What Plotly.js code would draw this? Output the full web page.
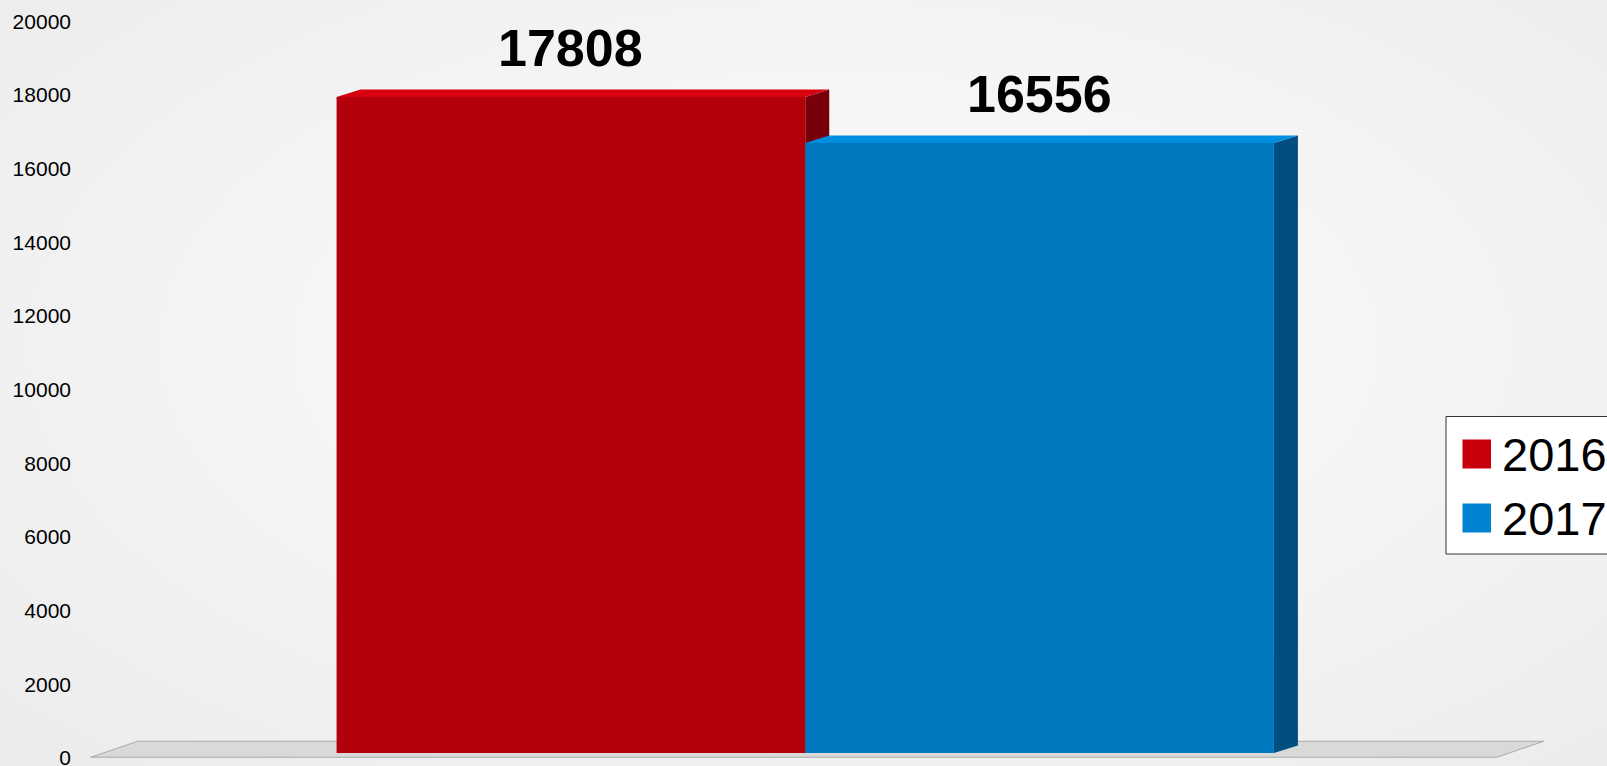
<!DOCTYPE html>
<html>
<head>
<meta charset="utf-8">
<script src="https://cdn.plot.ly/plotly-3.0.1.min.js"></script>
<style>
  html, body { margin: 0; padding: 0; }
  body {
    width: 1607px; height: 766px; overflow: hidden;
    background: radial-gradient(ellipse 75% 80% at 52% 45%, #fafafa 0%, #f5f5f5 45%, #ebebeb 100%);
  }
  #chart { width: 1607px; height: 766px; }
</style>
</head>
<body>
<div id="chart"></div>
<script>
// ---- data ----
const years = ['2016', '2017'];
const values = [17808, 16556];
const frontColors = ['#b3000b', '#0078bf'];
const topColors = ['#d6000f', '#008fe0'];
const sideColors = ['#78000a', '#004f80'];
const legendColors = ['#c8000b', '#0083d1'];
const yTicks = [0, 2000, 4000, 6000, 8000, 10000, 12000, 14000, 16000, 18000, 20000];

// ---- geometry (layout) ----
const W = 1607, H = 766;
const M = { l: 80, r: 0, t: 16, b: 0 };
const plotW = W - M.l - M.r, plotH = H - M.t - M.b;
const pxPerX = 1406;             // pixels per category unit
const pxPerY = 0.03684;          // pixels per value unit
const x0px = 805.25;             // pixel of x = 0
const y0px = 753;                // pixel of y = 0
const xRange = [(M.l - x0px) / pxPerX, (W - M.r - x0px) / pxPerX];
const yRange = [-(H - M.b - y0px) / pxPerY, (y0px - M.t) / pxPerY];
const bargap = 1 / 3;
const barW = (1 - bargap) / years.length;

const dX = 24 / pxPerX, dY = 7.5 / pxPerY;          // bar depth
const fdX = 47 / pxPerX, fdY = 16 / pxPerY;         // floor depth
const fsX = (47 - 24) / 2 / pxPerX, fsY = (16 - 7.5) / 2 / pxPerY;

const traces = years.map((yr, i) => ({
  type: 'bar',
  name: yr,
  x: [0],
  y: [values[i]],
  marker: { color: frontColors[i], line: { width: 0 } },
  hoverinfo: 'name+y',
  showlegend: false
}));

const shapes = [];
// floor
const fl = -0.5 - fsX, fr = 0.5 - fsX, fb = -fsY;
shapes.push({
  type: 'path', xref: 'x', yref: 'y', layer: 'below',
  path: `M ${fl},${fb} L ${fr},${fb} L ${fr + fdX},${fb + fdY} L ${fl + fdX},${fb + fdY} Z`,
  fillcolor: '#d9d9d9', line: { color: '#aaaaaa', width: 1 }
});
// 3D faces for each bar
years.forEach((yr, i) => {
  const L = -0.5 * (1 - bargap) + i * barW;
  const R = L + barW;
  const v = values[i];
  shapes.push({
    type: 'path', xref: 'x', yref: 'y', layer: 'below',
    path: `M ${R},0 L ${R},${v} L ${R + dX},${v + dY} L ${R + dX},${dY} Z`,
    fillcolor: sideColors[i], line: { width: 0 }
  });
  shapes.push({
    type: 'path', xref: 'x', yref: 'y', layer: 'below',
    path: `M ${L},${v} L ${R},${v} L ${R + dX},${v + dY} L ${L + dX},${v + dY} Z`,
    fillcolor: topColors[i], line: { width: 0 }
  });
});

// pixel -> paper helpers
const px = p => (p - M.l) / plotW;
const py = p => (H - M.b - p) / plotH;

// legend (drawn manually for large swatches)
shapes.push({
  type: 'rect', xref: 'paper', yref: 'paper', layer: 'above',
  x0: px(1446), x1: px(1620), y0: py(554), y1: py(416.5),
  fillcolor: '#ffffff', line: { color: '#333333', width: 1 }
});
const annotations = [];
years.forEach((yr, i) => {
  const cy = 454 + i * 64;
  shapes.push({
    type: 'rect', xref: 'paper', yref: 'paper', layer: 'above',
    x0: px(1462.5), x1: px(1491), y0: py(cy + 14.5), y1: py(cy - 14.5),
    fillcolor: legendColors[i], line: { width: 0 }
  });
  annotations.push({
    xref: 'paper', yref: 'paper', x: px(1499.5), y: py(cy),
    xanchor: 'left', yanchor: 'middle', showarrow: false,
    text: yr, font: { family: 'Liberation Sans, Arial, sans-serif', size: 47, color: '#000' }
  });
});
// value labels
years.forEach((yr, i) => {
  const L = -0.5 * (1 - bargap) + i * barW;
  annotations.push({
    xref: 'x', yref: 'y', x: L + barW / 2, y: values[i],
    xanchor: 'center', yanchor: 'middle', yshift: 49, showarrow: false,
    text: '<b>' + values[i] + '</b>',
    font: { family: 'Liberation Sans, Arial, sans-serif', size: 52, color: '#000' }
  });
});

const layout = {
  width: W, height: H,
  margin: M,
  paper_bgcolor: 'rgba(0,0,0,0)',
  plot_bgcolor: 'rgba(0,0,0,0)',
  barmode: 'group',
  bargap: bargap,
  bargroupgap: 0,
  showlegend: false,
  xaxis: { range: xRange, visible: false, fixedrange: true },
  yaxis: {
    range: yRange, tickvals: yTicks, ticktext: yTicks.map(String),
    showgrid: false, zeroline: false, showline: false, ticks: '',
    tickfont: { family: 'Liberation Sans, Arial, sans-serif', size: 21, color: '#000' },
    ticklabelstandoff: 8, ticklabelshift: 5, ticklabeloverflow: 'allow',
    fixedrange: true
  },
  shapes: shapes,
  annotations: annotations
};

Plotly.newPlot('chart', traces, layout, { displayModeBar: false, staticPlot: true });
</script>
</body>
</html>
